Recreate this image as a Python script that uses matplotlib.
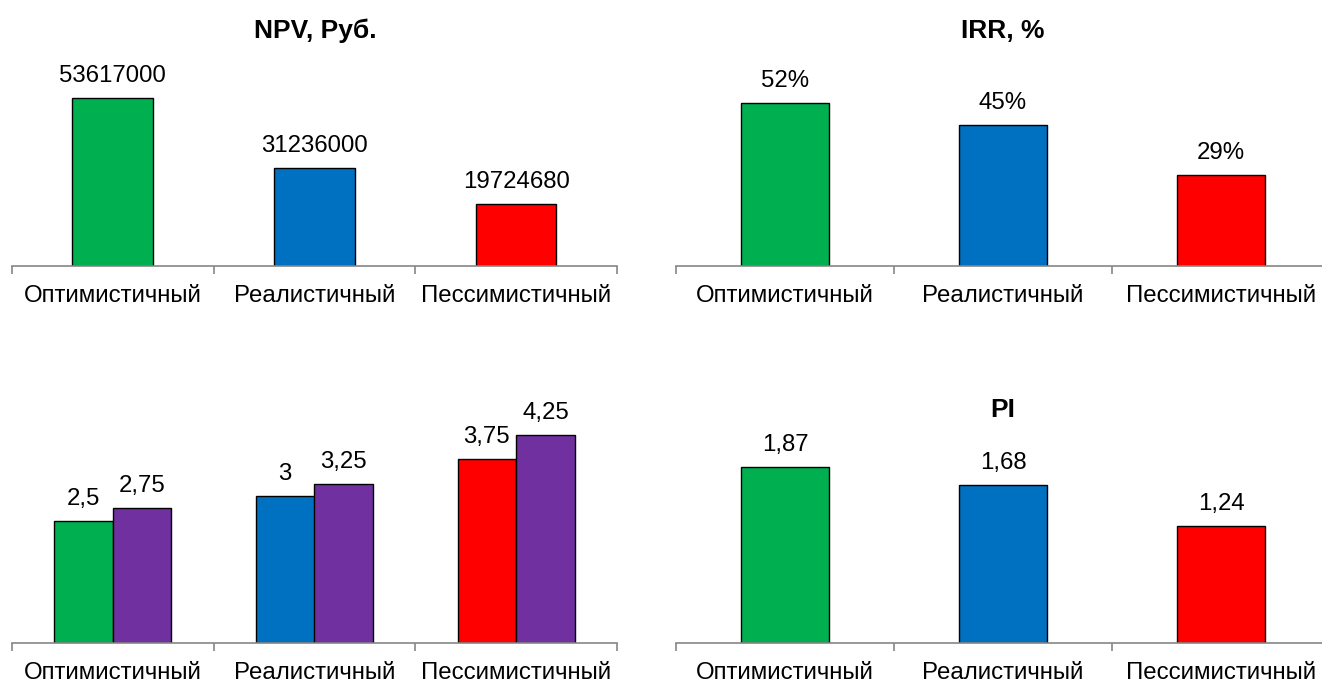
import matplotlib
matplotlib.use("Agg")
import matplotlib.pyplot as plt
import numpy as np

plt.rcParams['font.family'] = ['Liberation Sans', 'DejaVu Sans']

categories = ["Оптимистичный", "Реалистичный", "Пессимистичный"]
colors = ["#00B050", "#0070C0", "#FF0000"]
purple = "#7030A0"

npv_values = [53617000, 31236000, 19724680]
npv_labels = ["53617000", "31236000", "19724680"]
irr_values = [52, 45, 29]
irr_labels = ["52%", "45%", "29%"]
pair_a = [2.5, 3.0, 3.75]
pair_b = [2.75, 3.25, 4.25]
pair_a_labels = ["2,5", "3", "3,75"]
pair_b_labels = ["2,75", "3,25", "4,25"]
pi_values = [1.87, 1.68, 1.24]
pi_labels = ["1,87", "1,68", "1,24"]

W, H = 1322, 681
fig = plt.figure(figsize=(W / 100, H / 100), dpi=100)

FS = 17.3
TFS = 19


def make_ax(x0, x1, base, top):
    ax = fig.add_axes([x0 / W, (H - base) / H, (x1 - x0) / W, (base - top) / H])
    ax.set_xlim(-0.5, 2.5)
    for s in ["top", "right", "left"]:
        ax.spines[s].set_visible(False)
    ax.spines["bottom"].set_color("#868686")
    ax.spines["bottom"].set_linewidth(1.2)
    ax.set_yticks([])
    ax.set_xticks(range(3))
    ax.set_xticklabels(categories, fontsize=FS)
    ax.tick_params(axis="x", which="major", length=0, pad=14)
    ax.set_xticks([-0.5, 0.5, 1.5, 2.5], minor=True)
    ax.tick_params(axis="x", which="minor", length=6, width=1.2, color="#868686", direction="out")
    ax.patch.set_alpha(0)
    return ax


def ylim_for(ax, base, top, val, val_px):
    ax.set_ylim(0, val * (base - top) / val_px)


def labels(ax, xs, vals, texts):
    for x, v, t in zip(xs, vals, texts):
        ax.annotate(t, (x, v), xytext=(0, 8), textcoords="offset points",
                    ha="center", va="bottom", fontsize=FS)


x = np.arange(3)

# NPV
ax1 = make_ax(12, 617, 266, 40)
ylim_for(ax1, 266, 40, npv_values[0], 168)
ax1.bar(x, npv_values, width=0.4, color=colors, edgecolor="black", linewidth=1)
labels(ax1, x, npv_values, npv_labels)
fig.text(315 / W, 1 - 38 / H, "NPV, Руб.", ha="center", va="baseline", fontsize=TFS, fontweight="bold")

# IRR
ax2 = make_ax(676, 1330, 266, 40)
ylim_for(ax2, 266, 40, irr_values[0], 163)
ax2.bar(x, irr_values, width=0.4, color=colors, edgecolor="black", linewidth=1)
labels(ax2, x, irr_values, irr_labels)
fig.text(1003 / W, 1 - 38 / H, "IRR, %", ha="center", va="baseline", fontsize=TFS, fontweight="bold")

# Pairs
ax3 = make_ax(12, 617, 643, 400)
ylim_for(ax3, 643, 400, pair_b[2], 208)
bw = 0.29
ax3.bar(x - bw / 2, pair_a, width=bw, color=colors, edgecolor="black", linewidth=1)
ax3.bar(x + bw / 2, pair_b, width=bw, color=purple, edgecolor="black", linewidth=1)
labels(ax3, x - bw / 2, pair_a, pair_a_labels)
labels(ax3, x + bw / 2, pair_b, pair_b_labels)

# PI
ax4 = make_ax(676, 1330, 643, 400)
ylim_for(ax4, 643, 400, pi_values[0], 176)
ax4.bar(x, pi_values, width=0.4, color=colors, edgecolor="black", linewidth=1)
labels(ax4, x, pi_values, pi_labels)
fig.text(1003 / W, 1 - 417 / H, "PI", ha="center", va="baseline", fontsize=TFS, fontweight="bold")

fig.savefig("out.png", dpi=100)
